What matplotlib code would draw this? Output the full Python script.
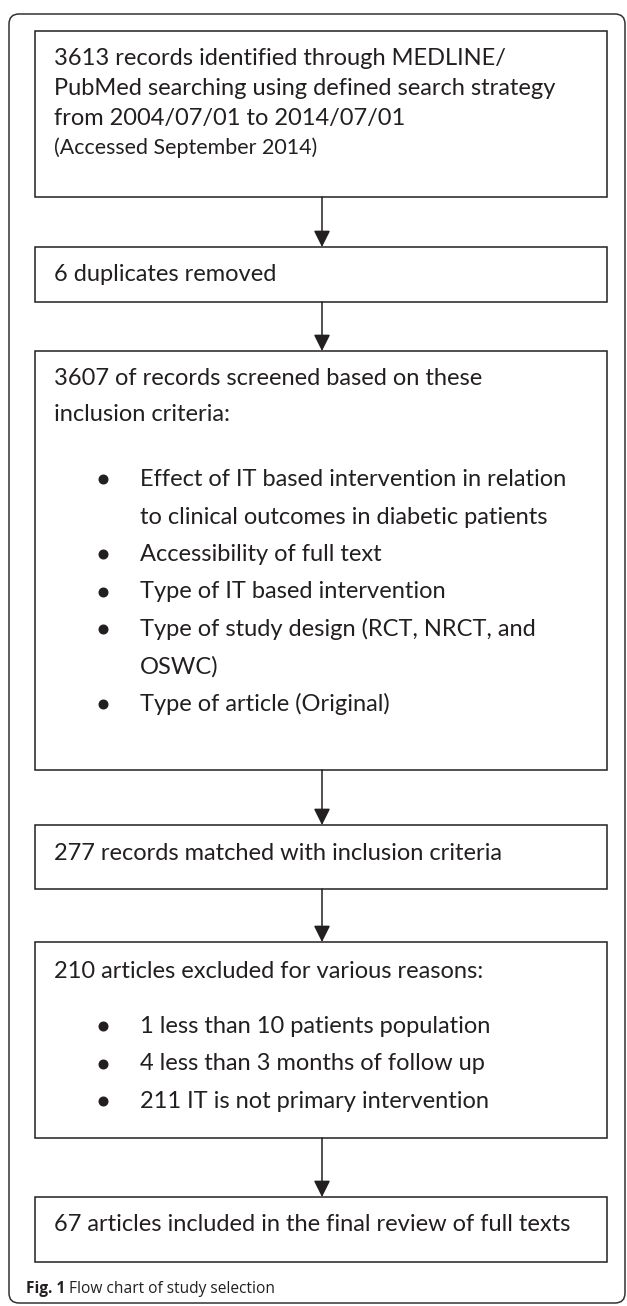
import matplotlib.pyplot as plt
import matplotlib.patches as pt

# flow chart content
box1_lines = ["3613 records identified through MEDLINE/",
              "PubMed searching using defined search strategy",
              "from 2004/07/01 to 2014/07/01"]
box1_note = "(Accessed September 2014)"
box2_text = "6 duplicates removed"
box3_head = ["3607 of records screened based on these",
             "inclusion criteria:"]
box3_bullets = [["Effect of IT based intervention in relation",
                 "to clinical outcomes in diabetic patients"],
                ["Accessibility of full text"],
                ["Type of IT based intervention"],
                ["Type of study design (RCT, NRCT, and", "OSWC)"],
                ["Type of article (Original)"]]
box4_text = "277 records matched with inclusion criteria"
box5_head = "210 articles excluded for various reasons:"
box5_bullets = ["1 less than 10 patients population",
                "4 less than 3 months of follow up",
                "211 IT is not primary intervention"]
box6_text = "67 articles included in the final review of full texts"
caption_bold = "Fig. 1"
caption_rest = "Flow chart of study selection"

# layout in pixels (top, bottom) of each box
boxes = [(31, 197), (247, 302), (351, 770), (825, 889), (942, 1138), (1197, 1262)]
X0, X1 = 35, 607
XMID = 322
TXT = 54
BUL = 103
BTXT = 140
FS = 17.0
INK = '#231f20'
FONT = 'Lato'

fig = plt.figure(figsize=(6.27, 13.06), dpi=100)
ax = fig.add_axes([0, 0, 1, 1])
ax.set_xlim(0, 627)
ax.set_ylim(1306, 0)
ax.axis('off')

# outer frame
frame = pt.FancyBboxPatch((9, 14), 616, 1289, boxstyle="round,pad=0,rounding_size=10",
                          fill=False, ec='#333333', lw=1.1)
ax.add_patch(frame)

for top, bot in boxes:
    ax.add_patch(pt.Rectangle((X0, top), X1 - X0, bot - top, fill=False, ec=INK, lw=1.1))

for i in range(len(boxes) - 1):
    ax.annotate('', xy=(XMID, boxes[i + 1][0]), xytext=(XMID, boxes[i][1]),
                arrowprops=dict(arrowstyle='-|>,head_length=0.5,head_width=0.25',
                                mutation_scale=20, color=INK, lw=1.1,
                                shrinkA=0, shrinkB=0))

def line(x, y, s, size=FS, **kw):
    ax.text(x, y, s, fontsize=size, color=INK, family=FONT, va='baseline', ha='left', **kw)

def bullet(y):
    ax.plot(BUL, y - 7, 'o', ms=6.2, color=INK)

# box 1
for k, s in enumerate(box1_lines):
    line(TXT, 65 + 30 * k, s)
line(TXT, 154, box1_note, size=15.4)

# box 2
line(TXT, 281, box2_text)

# box 3
line(TXT, 385, box3_head[0])
line(TXT, 421, box3_head[1])
y = 486
for b in box3_bullets:
    bullet(y)
    for s in b:
        line(BTXT, y, s)
        y += 37.5

# box 4
line(TXT, 860, box4_text)

# box 5
line(TXT, 978, box5_head)
for k, s in enumerate(box5_bullets):
    bullet(1033 + 37.5 * k)
    line(BTXT, 1033 + 37.5 * k, s)

# box 6
line(TXT, 1231, box6_text)

# caption
t = ax.text(26, 1293, caption_bold + " ", fontsize=11.2, color=INK, family='Open Sans',
            weight='bold', va='baseline')
fig.canvas.draw()
bb = t.get_window_extent()
x2 = ax.transData.inverted().transform((bb.x1, 0))[0]
ax.text(x2, 1293, caption_rest, fontsize=11.2, color=INK, family='Open Sans', va='baseline')

fig.savefig('out.png', dpi=100)
